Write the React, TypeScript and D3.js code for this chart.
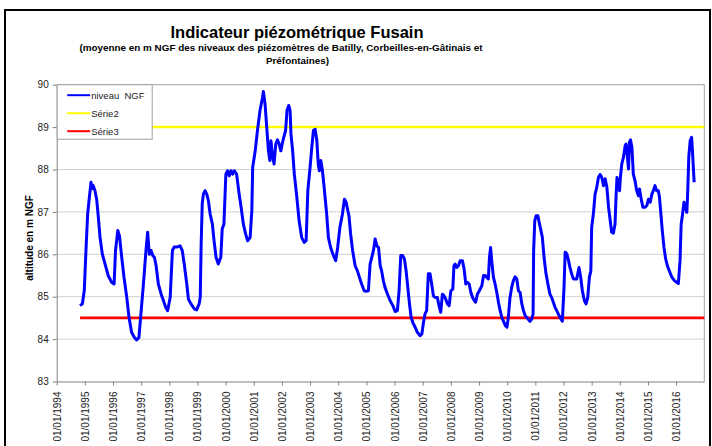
import { useEffect, useRef } from 'react'
import * as d3 from 'd3'

// Indicateur piézométrique Fusain — mean NGF level (decimal year, m NGF)
const years = [
  1994.83, 1994.91, 1994.98, 1995.04, 1995.10, 1995.16, 1995.22, 1995.26, 1995.30, 1995.36,
  1995.42, 1995.48, 1995.54, 1995.62, 1995.72, 1995.83, 1995.95, 1996.04, 1996.09, 1996.17,
  1996.23, 1996.31, 1996.39, 1996.49, 1996.57, 1996.66, 1996.76, 1996.84, 1996.92, 1996.98,
  1997.08, 1997.17, 1997.23, 1997.29, 1997.35, 1997.41, 1997.47, 1997.53, 1997.61, 1997.71,
  1997.79, 1997.87, 1997.94, 1998.03, 1998.11, 1998.17, 1998.26, 1998.38, 1998.46, 1998.53,
  1998.62, 1998.68, 1998.77, 1998.89, 1998.97, 1999.06, 1999.10, 1999.13, 1999.17, 1999.21,
  1999.27, 1999.33, 1999.39, 1999.45, 1999.53, 1999.59, 1999.66, 1999.74, 1999.83, 1999.88,
  1999.94, 2000.01, 2000.07, 2000.13, 2000.19, 2000.25, 2000.31, 2000.39, 2000.48, 2000.55,
  2000.63, 2000.71, 2000.78, 2000.87, 2000.93, 2000.96, 2001.05, 2001.13, 2001.22, 2001.31,
  2001.34, 2001.40, 2001.46, 2001.52, 2001.57, 2001.61, 2001.66, 2001.72, 2001.78, 2001.84,
  2001.90, 2001.96, 2002.02, 2002.08, 2002.13, 2002.18, 2002.24, 2002.29, 2002.32, 2002.38,
  2002.44, 2002.53, 2002.61, 2002.70, 2002.79, 2002.86, 2002.92, 2003.00, 2003.06, 2003.12,
  2003.18, 2003.24, 2003.29, 2003.33, 2003.38, 2003.44, 2003.50, 2003.59, 2003.65, 2003.73,
  2003.83, 2003.91, 2003.98, 2004.06, 2004.15, 2004.22, 2004.28, 2004.34, 2004.38, 2004.44,
  2004.51, 2004.60, 2004.68, 2004.77, 2004.83, 2004.92, 2004.99, 2005.07, 2005.13, 2005.19,
  2005.25, 2005.31, 2005.37, 2005.43, 2005.49, 2005.54, 2005.60, 2005.66, 2005.75, 2005.84,
  2005.94, 2006.02, 2006.10, 2006.16, 2006.22, 2006.29, 2006.35, 2006.41, 2006.47, 2006.53,
  2006.59, 2006.65, 2006.73, 2006.81, 2006.91, 2006.97, 2007.02, 2007.08, 2007.14, 2007.20,
  2007.26, 2007.32, 2007.38, 2007.44, 2007.52, 2007.58, 2007.64, 2007.70, 2007.76, 2007.82,
  2007.88, 2007.94, 2008.00, 2008.07, 2008.11, 2008.15, 2008.21, 2008.27, 2008.33, 2008.41,
  2008.47, 2008.53, 2008.59, 2008.65, 2008.71, 2008.77, 2008.83, 2008.88, 2008.94, 2009.01,
  2009.10, 2009.16, 2009.22, 2009.27, 2009.33, 2009.37, 2009.41, 2009.45, 2009.51, 2009.57,
  2009.63, 2009.69, 2009.75, 2009.81, 2009.87, 2009.93, 2009.99, 2010.04, 2010.10, 2010.16,
  2010.22, 2010.28, 2010.34, 2010.40, 2010.46, 2010.52, 2010.58, 2010.64, 2010.70, 2010.75,
  2010.81, 2010.87, 2010.92, 2010.94, 2010.98, 2011.03, 2011.09, 2011.15, 2011.20, 2011.25,
  2011.31, 2011.38, 2011.47, 2011.52, 2011.58, 2011.64, 2011.70, 2011.76, 2011.82, 2011.88,
  2011.96, 2012.02, 2012.06, 2012.12, 2012.18, 2012.23, 2012.29, 2012.35, 2012.41, 2012.47,
  2012.55, 2012.61, 2012.67, 2012.74, 2012.80, 2012.86, 2012.92, 2012.97, 2013.00, 2013.06,
  2013.12, 2013.18, 2013.24, 2013.30, 2013.36, 2013.42, 2013.48, 2013.54, 2013.60, 2013.66,
  2013.71, 2013.77, 2013.83, 2013.87, 2013.90, 2013.95, 2013.99, 2014.02, 2014.07, 2014.13,
  2014.19, 2014.22, 2014.27, 2014.31, 2014.34, 2014.38, 2014.43, 2014.48, 2014.54, 2014.60,
  2014.66, 2014.70, 2014.76, 2014.82, 2014.90, 2014.96, 2015.02, 2015.08, 2015.14, 2015.19,
  2015.25, 2015.31, 2015.37, 2015.41, 2015.46, 2015.51, 2015.57, 2015.63, 2015.69, 2015.76,
  2015.85, 2015.94, 2016.02, 2016.08, 2016.14, 2016.18, 2016.23, 2016.28, 2016.32, 2016.38,
  2016.41, 2016.45, 2016.50, 2016.55, 2016.58, 2016.64,
]

const levels = [
  84.79, 84.83, 85.14, 86.09, 86.95, 87.34, 87.70, 87.55, 87.62, 87.50,
  87.30, 86.87, 86.40, 86.01, 85.77, 85.50, 85.34, 85.30, 86.09, 86.56,
  86.44, 85.93, 85.46, 84.98, 84.51, 84.16, 84.04, 83.98, 84.04, 84.51,
  85.30, 86.09, 86.52, 86.00, 86.09, 85.97, 85.93, 85.73, 85.30, 85.06,
  84.91, 84.75, 84.67, 84.98, 86.09, 86.17, 86.17, 86.20, 86.09, 85.77,
  85.30, 84.94, 84.83, 84.71, 84.69, 84.83, 85.00, 86.20, 87.20, 87.42,
  87.50, 87.42, 87.26, 86.95, 86.71, 86.32, 85.93, 85.77, 85.93, 86.60,
  86.71, 87.89, 87.97, 87.85, 87.97, 87.89, 87.97, 87.89, 87.42, 87.11,
  86.71, 86.48, 86.32, 86.40, 87.03, 88.05, 88.44, 88.92, 89.39, 89.70,
  89.84, 89.54, 88.99, 88.44, 88.21, 88.68, 88.33, 88.13, 88.60, 88.70,
  88.60, 88.44, 88.64, 88.80, 88.92, 89.39, 89.51, 89.39, 88.84, 88.44,
  87.89, 87.34, 86.79, 86.40, 86.28, 86.32, 87.50, 88.05, 88.52, 88.92,
  88.95, 88.68, 88.13, 87.97, 88.21, 87.97, 87.58, 86.95, 86.40, 86.16,
  85.97, 85.85, 86.16, 86.64, 86.95, 87.30, 87.23, 87.03, 86.91, 86.48,
  86.09, 85.73, 85.61, 85.42, 85.30, 85.14, 85.13, 85.14, 85.77, 85.93,
  86.09, 86.36, 86.20, 86.16, 85.73, 85.61, 85.38, 85.22, 85.06, 84.91,
  84.79, 84.65, 84.67, 85.14, 85.97, 85.97, 85.89, 85.61, 85.22, 84.83,
  84.51, 84.39, 84.28, 84.16, 84.08, 84.12, 84.36, 84.59, 84.67, 85.54,
  85.54, 85.30, 85.02, 84.98, 84.98, 84.79, 84.63, 85.06, 85.02, 84.94,
  84.83, 84.79, 85.14, 85.18, 85.73, 85.77, 85.69, 85.73, 85.85, 85.85,
  85.65, 85.30, 85.34, 85.30, 85.10, 84.98, 84.91, 84.87, 85.06, 85.14,
  85.26, 85.50, 85.50, 85.46, 85.42, 85.93, 86.16, 85.85, 85.46, 85.30,
  85.10, 84.87, 84.67, 84.51, 84.42, 84.32, 84.28, 84.51, 84.98, 85.22,
  85.38, 85.47, 85.42, 85.14, 85.10, 84.83, 84.67, 84.55, 84.51, 84.47,
  84.42, 84.47, 84.59, 86.09, 86.79, 86.91, 86.91, 86.71, 86.56, 86.40,
  85.93, 85.54, 85.22, 85.06, 84.98, 84.87, 84.75, 84.67, 84.59, 84.51,
  84.42, 85.22, 86.05, 86.01, 85.85, 85.69, 85.54, 85.42, 85.42, 85.42,
  85.69, 85.46, 85.14, 84.91, 84.83, 84.98, 85.46, 85.61, 86.64, 86.95,
  87.42, 87.58, 87.81, 87.88, 87.81, 87.62, 87.78, 87.58, 87.11, 86.79,
  86.52, 86.50, 86.71, 87.42, 87.81, 87.66, 87.50, 87.81, 88.13, 88.29,
  88.56, 88.60, 88.29, 88.01, 88.64, 88.70, 88.52, 87.89, 87.74, 87.50,
  87.38, 87.54, 87.30, 87.11, 87.11, 87.15, 87.30, 87.23, 87.42, 87.50,
  87.62, 87.50, 87.50, 87.34, 86.95, 86.56, 86.16, 85.89, 85.73, 85.61,
  85.46, 85.38, 85.34, 85.31, 85.85, 86.71, 86.95, 87.23, 87.15, 86.99,
  87.42, 88.29, 88.68, 88.76, 88.44, 87.70,
]

const serie2Level = 89
const serie3Level = 84.5
const yTicks = [83, 84, 85, 86, 87, 88, 89, 90]
const tickYears = d3.range(1994, 2017)

const legendItems = [
  { label: 'niveau  NGF', color: '#0000ff' },
  { label: 'Série2', color: '#ffff00' },
  { label: 'Série3', color: '#ff0000' },
]

function toDate(y: number) {
  const yr = Math.floor(y)
  const a = new Date(yr, 0, 1).getTime()
  const b = new Date(yr + 1, 0, 1).getTime()
  return new Date(a + (y - yr) * (b - a))
}

export default function App() {
  const svgRef = useRef<SVGSVGElement>(null)

  useEffect(() => {
    const svgEl = svgRef.current
    if (!svgEl) return
    const width = 712
    const height = 446
    const plot = { left: 56.7, top: 84.7, right: 704.3, bottom: 381.5 }

    const x = d3.scaleTime()
      .domain([new Date(1994, 0, 1), new Date(2017, 0, 1)])
      .range([plot.left, plot.right])
    const y = d3.scaleLinear().domain([83, 90]).range([plot.bottom, plot.top])

    const svg = d3.select(svgEl)
    svg.attr('width', width).attr('height', height).selectAll('*').remove()
    svg.style('font-family', 'Liberation Sans, Arial, sans-serif')

    svg.append('rect').attr('width', width).attr('height', height).attr('fill', '#fff')

    // Outer frame
    svg.append('rect')
      .attr('x', 5).attr('y', 10).attr('width', 705).attr('height', 460)
      .attr('fill', 'none').attr('stroke', '#000').attr('stroke-width', 2)

    // Titles
    svg.append('text')
      .attr('x', 297).attr('y', 37.5).attr('text-anchor', 'middle')
      .style('font-size', '16.5px').style('font-weight', 'bold')
      .text('Indicateur piézométrique Fusain')
    svg.append('text')
      .attr('x', 281).attr('y', 50.5).attr('text-anchor', 'middle')
      .style('font-size', '9.9px').style('font-weight', 'bold')
      .text('(moyenne en m NGF des niveaux des piézomètres de Batilly, Corbeilles-en-Gâtinais et')
    svg.append('text')
      .attr('x', 297.5).attr('y', 63.5).attr('text-anchor', 'middle')
      .style('font-size', '9.9px').style('font-weight', 'bold')
      .text('Préfontaines)')

    // Gridlines
    svg.append('g')
      .selectAll('line')
      .data(yTicks.filter(t => t > 83))
      .join('line')
      .attr('x1', plot.left).attr('x2', plot.right)
      .attr('y1', d => y(d)).attr('y2', d => y(d))
      .attr('stroke', d => (d === 90 ? '#a0a0a0' : '#d0d0d0'))
      .attr('stroke-width', 1)

    // Right border of plot
    svg.append('line')
      .attr('x1', plot.right).attr('x2', plot.right)
      .attr('y1', plot.top).attr('y2', plot.bottom)
      .attr('stroke', '#a0a0a0')

    // Y axis
    const yAxisG = svg.append('g').attr('transform', `translate(${plot.left},0)`)
    yAxisG.call(d3.axisLeft(y).tickValues(yTicks).tickSize(4).tickSizeOuter(0).tickFormat(d => `${d}`))
    yAxisG.select('.domain').attr('stroke', '#808080')
    yAxisG.selectAll('.tick line').attr('stroke', '#808080')
    yAxisG.selectAll('.tick text')
      .attr('x', -8)
      .style('font-size', '10px').style('fill', '#222').style('font-family', 'Liberation Sans, Arial, sans-serif')

    // X axis
    const xAxisG = svg.append('g').attr('transform', `translate(0,${plot.bottom})`)
    xAxisG.call(
      d3.axisBottom(x)
        .tickValues(tickYears.map(yr => new Date(yr, 0, 1)))
        .tickSize(4).tickSizeOuter(0)
        .tickFormat(d => `01/01/${(d as Date).getFullYear()}`),
    )
    xAxisG.select('.domain').attr('stroke', '#808080')
    xAxisG.selectAll('.tick line').attr('stroke', '#808080')
    xAxisG.selectAll('.tick text')
      .attr('transform', 'rotate(-90)')
      .attr('x', -10).attr('y', 0).attr('dy', '0.35em')
      .attr('text-anchor', 'end')
      .style('font-size', '10px').style('fill', '#222').style('font-family', 'Liberation Sans, Arial, sans-serif')

    // Y axis title
    svg.append('text')
      .attr('transform', `translate(33,238) rotate(-90)`)
      .attr('text-anchor', 'middle')
      .style('font-size', '10px').style('font-weight', 'bold')
      .text('altitude en m NGF')

    const start = toDate(years[0])
    const end = new Date(2017, 0, 1)

    // Threshold lines
    svg.append('line')
      .attr('x1', x(start)).attr('x2', x(end))
      .attr('y1', y(serie2Level)).attr('y2', y(serie2Level))
      .attr('stroke', '#ffff00').attr('stroke-width', 2.5)
    svg.append('line')
      .attr('x1', x(start)).attr('x2', x(end))
      .attr('y1', y(serie3Level)).attr('y2', y(serie3Level))
      .attr('stroke', '#ff0000').attr('stroke-width', 2.8)

    // Level series
    const pts = years.map((yr, i) => ({ date: toDate(yr), value: levels[i] }))
    const line = d3.line<{ date: Date; value: number }>()
      .x(d => x(d.date))
      .y(d => y(d.value))
    svg.append('path')
      .datum(pts)
      .attr('fill', 'none')
      .attr('d', line)
      .attr('stroke', '#0000ff')
      .attr('stroke-width', 3)
      .attr('stroke-linejoin', 'round')

    // Legend
    const lg = svg.append('g').attr('transform', `translate(${plot.left + 0.5},${plot.top})`)
    lg.append('rect')
      .attr('width', 95).attr('height', 54.5)
      .attr('fill', '#fff').attr('stroke', '#a0a0a0')
    legendItems.forEach((item, i) => {
      const cy = 10.5 + i * 18
      lg.append('line')
        .attr('x1', 10).attr('x2', 33).attr('y1', cy).attr('y2', cy)
        .attr('stroke', item.color).attr('stroke-width', 2)
      lg.append('text')
        .attr('x', 34).attr('y', cy + 3.5)
        .style('font-size', '9.5px').style('fill', '#222')
        .style('white-space', 'pre')
        .text(item.label)
    })
  }, [])

  return (
    <div style={{ position: 'absolute', left: 0, top: 0 }}>
      <svg ref={svgRef} />
    </div>
  )
}
